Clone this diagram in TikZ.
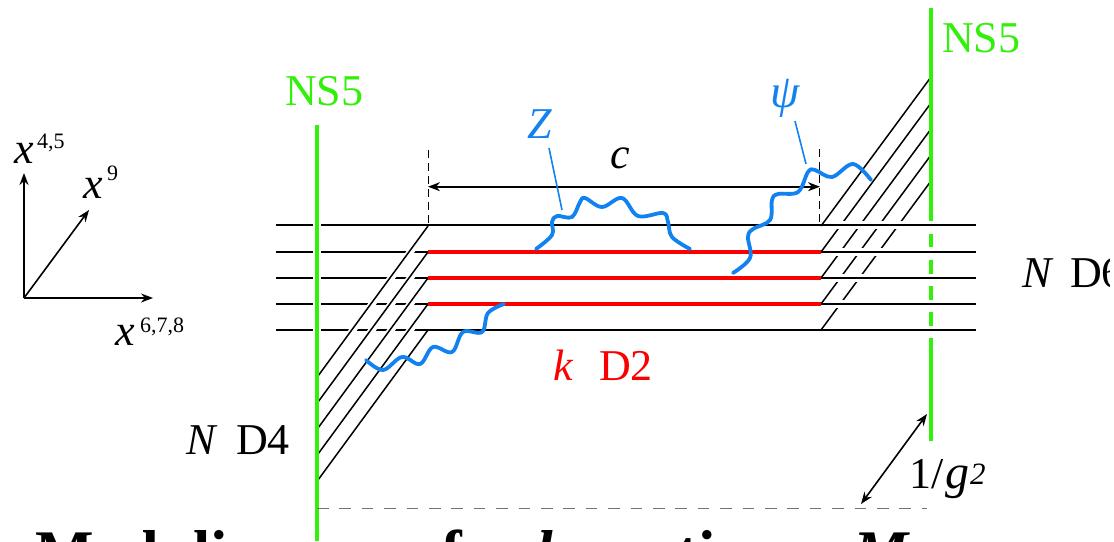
\documentclass[tikz,border=0pt]{standalone}
\usepackage{fontspec}
\setmainfont{Liberation Serif}
\usetikzlibrary{arrows.meta}
\definecolor{nsgreen}{RGB}{50,240,10}
\definecolor{wavy}{RGB}{18,130,240}
\definecolor{dtwo}{RGB}{250,0,0}
\newcommand{\fs}[1]{\fontsize{#1}{#1}\selectfont}
\tikzset{
  brane/.style={black,line width=1.8pt},
  diag/.style={black,line width=1.5pt},
  halo/.style={white,line width=7pt},
  halor/.style={white,line width=8pt},
  dtwoline/.style={dtwo,line width=4pt},
  nsline/.style={nsgreen,line width=4pt},
  wave/.style={wavy,line width=3.8pt,line cap=round,line join=round},
  leader/.style={wavy,line width=1.6pt},
  guide/.style={black,line width=1pt,dash pattern=on 8pt off 5pt},
  gapline/.style={black!55,line width=1.5pt,dash pattern=on 11.5pt off 10.9pt},
  axisarrow/.style={black,line width=1.6pt,-{Stealth[length=12pt,width=9pt]}},
  dimarrow/.style={black,line width=1.6pt,{Stealth[length=12pt,width=9pt]}-{Stealth[length=12pt,width=9pt]}},
  lab/.style={anchor=base west,inner sep=0pt,outer sep=0pt},
  big/.style={lab,font=\fs{44}},
  sup/.style={lab,font=\fs{22}},
  title/.style={lab,font=\fs{62}\bfseries,text=black}
}
\begin{document}
\begin{tikzpicture}[x=1pt,y=-1pt]
\useasboundingbox (0,0) rectangle (1114,541);
% right diagonals (broken by the horizontals)
\foreach \y in {226,252,278,304,330}
  \draw[diag] (821,\y) -- ++(110,-149);
\foreach \y in {225.2,252,277.7,303.7,329.7}
  \draw[halor] (826,\y) -- (976,\y);
% horizontals
\foreach \y in {225.2,252,277.7,303.7,329.7}
  \draw[brane] (276,\y) -- (976,\y);
% left brane halo
\draw[white,line width=8pt] (317,215) -- (317,340);
% left diagonals
\foreach \y in {226,252,278,304,330}{
  \draw[halo] (319,\y+150) -- ++(103,-140);
  \draw[diag] (318,\y+150) -- (428,\y);
}
% D2
\foreach \y in {252,277.7,303.7}
  \draw[dtwoline] (428,\y) -- (821,\y);
% NS5 branes
\draw[nsline] (317,125) -- (317,541);
\draw[nsline] (931,8) -- (931,221);
\draw[nsline] (931,234) -- (931,247);
\draw[nsline] (931,260) -- (931,273.5);
\draw[nsline] (931,286) -- (931,299.5);
\draw[nsline] (931,312) -- (931,325.5);
\draw[nsline] (931,338) -- (931,441);
% guides
\draw[guide] (428,150) -- (428,226);
\draw[guide] (819.5,149) -- (819.5,226);
\draw[gapline] (317,508.5) -- (927,508.5);
\draw[dimarrow] (428,186.7) -- (820,186.7);
\draw[dimarrow] (927,414) -- (861,504);
% axes
\coordinate (o) at (24,298);
\coordinate (ax1) at (24,173);
\coordinate (ax2) at (89,210);
\coordinate (ax3) at (153,298);
\draw[axisarrow] (o) -- (ax1);
\draw[axisarrow] (o) -- (ax2);
\draw[axisarrow] (o) -- (ax3);
% leaders
\draw[leader] (549,148) -- (562,210);
\draw[leader] (795,121) -- (806,164);
% waves
\draw[wave] plot[smooth,tension=.6] coordinates {(366,360)(383,370)(402,357)(420,364)(433,347)(452,352)(463,332)(482,332)(488,313)(504,304)};
\draw[wave] plot[smooth,tension=.6] coordinates {(536,249)(552,235)(552,222)(557,216)(572,217)(580,202)(585,198)(602,207)(622,198)(638,216)(663,213)(668,222)(672,237)(690,249)};
\draw[wave] plot[smooth,tension=.6] coordinates {(733,273)(750,258)(748,237)(753,229)(770,220)(772,200)(778,194)(798,192)(808,172)(815,170)(832,177)(853,164)(871,180)};
% labels
\node[big,text=nsgreen] (nsl) at (285,105) {NS5};
\node[big,text=nsgreen] (nsr) at (942,52) {NS5};
\node[big] (cl) at (610,168) {\itshape c};
\node[big,text=wavy] (zl) at (527,138) {\itshape Z};
\node[big,font=\fs{47},text=wavy] (psil) at (770,107) {\itshape ψ};
\node[big,text=dtwo] (kl) at (553,380) {\itshape k};
\node[big,text=dtwo] (d2l) at (599,380) {D2};
\node[big] (nl) at (186,454) {\itshape N};
\node[big] (d4l) at (236,454) {D4};
\node[big] (n6) at (1022,287) {\itshape N};
\node[big] (d6) at (1070,287) {D6};
\node[big] (gl) at (909,488) {1/};
\node[big,font=\fs{48}] (gg) at (945,488) {\itshape g};
\node[lab,font=\fs{31}] (g2) at (970,484) {\itshape 2};
\node[big] (xa) at (14,163) {\itshape x};
\node[sup] (xas) at (37,148) {4,5};
\node[big] (xb) at (83,198) {\itshape x};
\node[sup] (xbs) at (107,180) {9};
\node[big] (xc) at (115,345) {\itshape x};
\node[sup] (xcs) at (140,332) {6,7,8};
% cut-off title
\node[title] (t1) at (35,573) {Moduli};
\node[title] (t2) at (246,573) {space};
\node[title] (t3) at (410,573) {of};
\node[title] (t4) at (536,573) {\itshape k};
\node[title] (t5) at (588,573) {vortices};
\node[title] (t6) at (853,573) {\itshape M};
% right edge of the picture
\fill[white] (1110,0) rectangle (1114,541);
\end{tikzpicture}
\end{document}
